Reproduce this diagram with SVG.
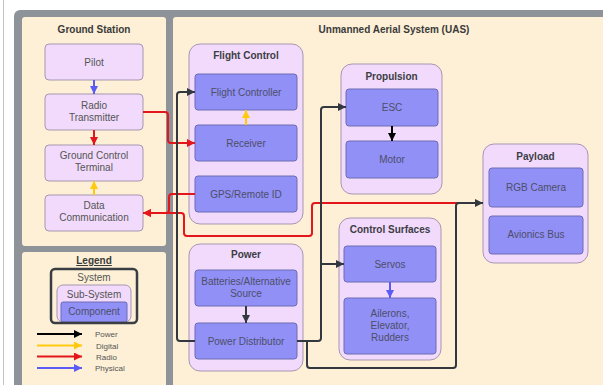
<svg xmlns="http://www.w3.org/2000/svg" width="603" height="385" viewBox="0 0 603 385">
<style>
  text { font-family: "Liberation Sans", Arial, sans-serif; }
  .panel { fill: #fdf0d7; }
  .ptitle { font-size: 10px; font-weight: bold; fill: #3a3a3a; text-anchor: middle; }
  .grp { fill: #f1dafb; stroke: #a597b0; stroke-width: 1; }
  .gtitle { font-size: 10px; font-weight: bold; fill: #3d3d45; text-anchor: middle; }
  .comp { fill: #9090f7; stroke: #6c6cb2; stroke-width: 1; }
  .node { fill: #f1dafb; stroke: #a597b0; stroke-width: 1; }
  .lbl { font-size: 10px; fill: #4e4e68; text-anchor: middle; }
  .nlbl { font-size: 10px; fill: #555; text-anchor: middle; }
  .c { fill: none; stroke-width: 2; stroke-linejoin: round; }
  .k { stroke: #32383e; }
  .r { stroke: #e3161b; }
  .y { stroke: #ffc90e; }
  .b { stroke: #5b5bf5; }
  .leg { font-size: 8px; fill: #555; }
</style>
<defs>
  <marker id="mk" viewBox="0 0 10 10" refX="10" refY="5" markerWidth="9" markerHeight="8" markerUnits="userSpaceOnUse" orient="auto"><path d="M0,0 L10,5 L0,10 z" fill="#32383e"/></marker>
  <marker id="mr" viewBox="0 0 10 10" refX="10" refY="5" markerWidth="9" markerHeight="8" markerUnits="userSpaceOnUse" orient="auto"><path d="M0,0 L10,5 L0,10 z" fill="#e3161b"/></marker>
  <marker id="my" viewBox="0 0 10 10" refX="10" refY="5" markerWidth="9" markerHeight="8" markerUnits="userSpaceOnUse" orient="auto"><path d="M0,0 L10,5 L0,10 z" fill="#ffc90e"/></marker>
  <marker id="mb" viewBox="0 0 10 10" refX="10" refY="5" markerWidth="9" markerHeight="8" markerUnits="userSpaceOnUse" orient="auto"><path d="M0,0 L10,5 L0,10 z" fill="#5b5bf5"/></marker>
  <marker id="mkk" viewBox="0 0 10 10" refX="10" refY="5" markerWidth="10" markerHeight="8" markerUnits="userSpaceOnUse" orient="auto"><path d="M0,0 L10,5 L0,10 z" fill="#000"/></marker>
</defs>
<rect x="0" y="0" width="603" height="385" fill="#ffffff"/>
<line x1="3.5" y1="0" x2="3.5" y2="385" stroke="#c4c4c4" stroke-width="1"/>
<rect x="14" y="10" width="600" height="390" rx="6" fill="#8e939a"/>

<g id="ground-station">
  <rect class="panel" x="22" y="17" width="144" height="229" rx="3"/>
  <text class="ptitle" x="94" y="33">Ground Station</text>
</g>
<g id="legend">
  <rect class="panel" x="22" y="252" width="144" height="140" rx="3"/>
  <text class="ptitle" x="94" y="264" text-decoration="underline">Legend</text>
  <rect x="57" y="285" width="74" height="37" rx="6" fill="#f1dafb" stroke="#a597b0"/>
  <rect x="61" y="302" width="66" height="20" rx="2" fill="#9090f7" stroke="#6c6cb2"/>
  <rect x="51" y="269" width="86" height="54" rx="4" fill="none" stroke="#3a3d42" stroke-width="2.5"/>
  <text class="nlbl" x="94" y="281">System</text>
  <text class="nlbl" x="94" y="298">Sub-System</text>
  <text class="lbl" x="94" y="315">Component</text>
  <line x1="37" y1="334" x2="82" y2="334" stroke="#000" stroke-width="2" marker-end="url(#mkk)"/>
  <line x1="37" y1="345.5" x2="82" y2="345.5" stroke="#ffc90e" stroke-width="2" marker-end="url(#my)"/>
  <line x1="37" y1="356.5" x2="82" y2="356.5" stroke="#e3161b" stroke-width="2" marker-end="url(#mr)"/>
  <line x1="37" y1="368" x2="82" y2="368" stroke="#5b5bf5" stroke-width="2" marker-end="url(#mb)"/>
  <text class="leg" x="95" y="337">Power</text>
  <text class="leg" x="96" y="348.5">Digital</text>
  <text class="leg" x="96" y="359.5">Radio</text>
  <text class="leg" x="95" y="371">Physical</text>
</g>
<g id="uas">
  <rect class="panel" x="173" y="17" width="440" height="380" rx="3"/>
  <text class="ptitle" x="394" y="33">Unmanned Aerial System (UAS)</text>
</g>

<g id="pilot"><rect class="node" x="45" y="44" width="98" height="36" rx="4"/><text class="nlbl" x="94" y="65.5">Pilot</text></g>
<g id="radio-transmitter"><rect class="node" x="45" y="94" width="98" height="36" rx="4"/><text class="nlbl" x="94" y="109">Radio</text><text class="nlbl" x="94" y="121">Transmitter</text></g>
<g id="ground-control-terminal"><rect class="node" x="45" y="145" width="98" height="36" rx="4"/><text class="nlbl" x="94" y="159">Ground Control</text><text class="nlbl" x="94" y="171">Terminal</text></g>
<g id="data-communication"><rect class="node" x="45" y="195" width="98" height="36" rx="4"/><text class="nlbl" x="94" y="209">Data</text><text class="nlbl" x="94" y="221">Communication</text></g>

<g id="flight-control">
  <rect class="grp" x="189" y="44" width="114" height="180" rx="11"/>
  <text class="gtitle" x="246" y="59">Flight Control</text>
  <g id="flight-controller"><rect class="comp" x="195" y="74" width="102" height="36" rx="3"/><text class="lbl" x="246" y="95.5">Flight Controller</text></g>
  <g id="receiver"><rect class="comp" x="195" y="125" width="102" height="36" rx="3"/><text class="lbl" x="246" y="146.5">Receiver</text></g>
  <g id="gps"><rect class="comp" x="195" y="176" width="102" height="36" rx="3"/><text class="lbl" x="246" y="197.5">GPS/Remote ID</text></g>
</g>
<g id="power">
  <rect class="grp" x="189" y="244" width="114" height="127" rx="11"/>
  <text class="gtitle" x="246" y="258">Power</text>
  <g id="batteries"><rect class="comp" x="195" y="270" width="102" height="36" rx="3"/><text class="lbl" x="246" y="285">Batteries/Alternative</text><text class="lbl" x="246" y="297">Source</text></g>
  <g id="power-distributor"><rect class="comp" x="195" y="323" width="102" height="36" rx="3"/><text class="lbl" x="246" y="344.5">Power Distributor</text></g>
</g>
<g id="propulsion">
  <rect class="grp" x="341" y="64" width="101" height="130" rx="11"/>
  <text class="gtitle" x="391.5" y="80">Propulsion</text>
  <g id="esc"><rect class="comp" x="346" y="89" width="92" height="37" rx="3"/><text class="lbl" x="392" y="111">ESC</text></g>
  <g id="motor"><rect class="comp" x="346" y="141" width="92" height="37" rx="3"/><text class="lbl" x="392" y="163">Motor</text></g>
</g>
<g id="control-surfaces">
  <rect class="grp" x="339" y="218" width="102" height="142" rx="11"/>
  <text class="gtitle" x="390" y="233">Control Surfaces</text>
  <g id="servos"><rect class="comp" x="344" y="246" width="92" height="36" rx="3"/><text class="lbl" x="390" y="267.5">Servos</text></g>
  <g id="ailerons"><rect class="comp" x="344" y="298" width="92" height="56" rx="3"/><text class="lbl" x="390" y="317">Ailerons,</text><text class="lbl" x="390" y="329">Elevator,</text><text class="lbl" x="390" y="341">Rudders</text></g>
</g>
<g id="payload">
  <rect class="grp" x="483" y="144" width="105" height="119" rx="11"/>
  <text class="gtitle" x="535.5" y="160">Payload</text>
  <g id="rgb-camera"><rect class="comp" x="489" y="168" width="94" height="39" rx="3"/><text class="lbl" x="536" y="190.5">RGB Camera</text></g>
  <g id="avionics-bus"><rect class="comp" x="489" y="216" width="94" height="38" rx="3"/><text class="lbl" x="536" y="238">Avionics Bus</text></g>
</g>

<g id="connectors">
  <path class="c b" d="M94,80 V94" marker-end="url(#mb)"/>
  <path class="c r" d="M94,130 V145" marker-end="url(#mr)"/>
  <path class="c y" d="M94,195 V181" marker-end="url(#my)"/>
  <path class="c y" d="M246,125 V110" marker-end="url(#my)"/>
  <path class="c k" d="M392,126 V141" marker-end="url(#mkk)" style="stroke:#000"/>
  <path class="c k" d="M246,306 V323" marker-end="url(#mk)"/>
  <path class="c b" d="M390,282 V298" marker-end="url(#mb)"/>
  <path class="c r" d="M143,112 H165 Q168,112 168,115 V140 Q168,143 171,143 H195" marker-end="url(#mr)"/>
  <path class="c r" d="M195,194 H172 Q169,194 169,197 V210 Q169,213 166,213 H143" marker-end="url(#mr)"/>
  <path class="c r" d="M483,203 H315 Q312,203 312,206 V233 Q312,236 309,236 H187 Q184,236 184,233 V216 Q184,213 181,213 H143" marker-end="url(#mr)"/>
  <path class="c k" d="M195,341 H180 Q177,341 177,338 V95 Q177,92 180,92 H195" marker-end="url(#mk)"/>
  <path class="c k" d="M297,341 H318 Q321,341 321,338 V110 Q321,107 324,107 H346" marker-end="url(#mk)"/>
  <path class="c k" d="M321,264 H344" marker-end="url(#mk)"/>
  <path class="c k" d="M307,341 V365 Q307,368 310,368 H453 Q456,368 456,365 V206 Q456,203 459,203 H483" marker-end="url(#mk)"/>
</g>
</svg>
